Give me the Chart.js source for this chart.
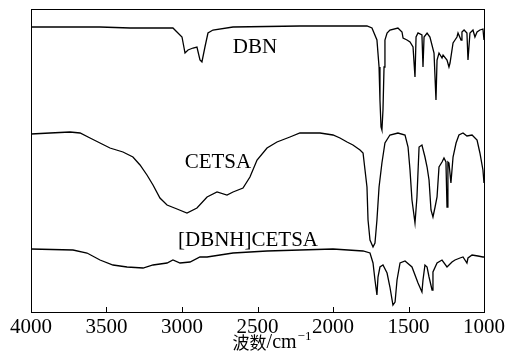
<!DOCTYPE html>
<html>
<head>
<meta charset="utf-8">
<script src="https://cdn.jsdelivr.net/npm/chart.js@4/dist/chart.umd.min.js"></script>
<style>
  body { margin: 0; background: #fff; }
</style>
</head>
<body>
<canvas id="ir" width="505" height="360"></canvas>
<script>
// Wavenumber axis (cm-1) ticks
var xTicks = [4000, 3500, 3000, 2500, 2000, 1500, 1000];

// DBN trace (offset transmittance, arbitrary units)
var dbnWn = [4000, 3543, 3344, 3060, 3000, 2980, 2960, 2927, 2901, 2881, 2868, 2848, 2828, 2795, 2662, 2219, 1775, 1742, 1709, 1695, 1689, 1682, 1676, 1669, 1662, 1656, 1642, 1623, 1570, 1543, 1536, 1510, 1490, 1470, 1457, 1450, 1437, 1411, 1404, 1397, 1377, 1358, 1331, 1318, 1311, 1298, 1278, 1271, 1245, 1232, 1225, 1205, 1192, 1179, 1172, 1152, 1146, 1132, 1113, 1106, 1093, 1073, 1060, 1046, 1027, 1007, 1000];
var dbnT = [285, 285, 284, 284, 275, 259, 262, 264, 265, 252, 250, 265, 279, 282, 285, 286, 286, 284, 272, 245, 212, 185, 182, 202, 245, 272, 279, 282, 284, 280, 274, 272, 270, 265, 235, 275, 279, 277, 245, 275, 279, 275, 259, 212, 252, 259, 254, 257, 252, 245, 249, 269, 272, 275, 279, 272, 280, 282, 279, 252, 279, 282, 275, 280, 282, 283, 272];

// CETSA trace
var cetsaWn = [4000, 3874, 3742, 3675, 3609, 3543, 3477, 3391, 3325, 3278, 3232, 3192, 3146, 3099, 3033, 2967, 2901, 2834, 2768, 2702, 2662, 2596, 2550, 2503, 2437, 2371, 2285, 2219, 2086, 2000, 1954, 1907, 1868, 1821, 1801, 1788, 1775, 1768, 1755, 1735, 1722, 1709, 1695, 1676, 1656, 1623, 1570, 1523, 1503, 1490, 1477, 1457, 1444, 1430, 1411, 1391, 1377, 1364, 1351, 1338, 1324, 1311, 1298, 1278, 1265, 1252, 1245, 1239, 1232, 1219, 1205, 1185, 1166, 1139, 1113, 1079, 1046, 1027, 1007, 1000];
var cetsaT = [178, 179, 180, 179, 174, 169, 164, 160, 155, 147, 137, 127, 114, 107, 103, 99, 104, 115, 120, 117, 120, 124, 135, 152, 164, 170, 175, 179, 179, 177, 174, 170, 167, 162, 159, 142, 125, 92, 72, 65, 69, 92, 125, 149, 169, 177, 179, 177, 165, 142, 112, 89, 115, 165, 167, 155, 145, 132, 102, 95, 105, 115, 145, 150, 154, 150, 105, 150, 149, 129, 155, 169, 177, 179, 176, 177, 172, 159, 142, 129];

// [DBNH]CETSA trace
var ilWn = [4000, 3722, 3629, 3543, 3457, 3364, 3258, 3192, 3099, 3060, 3013, 2947, 2881, 2834, 2748, 2662, 2437, 2219, 2000, 1801, 1755, 1735, 1722, 1709, 1702, 1689, 1669, 1642, 1623, 1603, 1589, 1576, 1556, 1523, 1477, 1437, 1411, 1404, 1391, 1377, 1364, 1344, 1338, 1311, 1278, 1245, 1212, 1192, 1159, 1139, 1113, 1106, 1079, 1040, 1007, 1000];
var ilT = [63, 62, 59, 52, 47, 45, 44, 47, 49, 52, 49, 50, 55, 55, 57, 59, 61, 62, 63, 61, 59, 49, 32, 17, 35, 45, 47, 39, 25, 7, 10, 32, 49, 51, 45, 29, 20, 32, 47, 45, 35, 22, 40, 49, 52, 45, 50, 52, 54, 55, 49, 54, 57, 56, 55, 55];

// Trace labels
var labelText = ["DBN", "CETSA", "[DBNH]CETSA"];
var labelWn = [2517, 2762, 2563];
var labelT = [265, 150, 72];

function pts(xs, ys) {
  var out = [];
  for (var i = 0; i < xs.length; i++) out.push({x: xs[i], y: ys[i]});
  return out;
}

var serif = '"Liberation Serif", "DejaVu Serif", serif';

var frame = {
  id: "frame",
  afterDraw: function(chart) {
    var ctx = chart.ctx, a = chart.chartArea, xs = chart.scales.x, ys = chart.scales.y;
    ctx.save();
    ctx.strokeStyle = "#000";
    ctx.lineWidth = 1;
    ctx.strokeRect(Math.round(a.left) + 0.5, Math.round(a.top) + 0.5, Math.round(a.right - a.left), Math.round(a.bottom - a.top));
    // inward tick marks
    for (var i = 1; i < xTicks.length - 1; i++) {
      var px = Math.round(xs.getPixelForValue(xTicks[i])) + 0.5;
      ctx.beginPath();
      ctx.moveTo(px, a.bottom);
      ctx.lineTo(px, a.bottom - 5);
      ctx.stroke();
    }
    // trace labels
    ctx.fillStyle = "#000";
    ctx.font = "21px " + serif;
    ctx.textAlign = "center";
    ctx.textBaseline = "middle";
    for (var j = 0; j < labelText.length; j++) {
      ctx.fillText(labelText[j], xs.getPixelForValue(labelWn[j]), ys.getPixelForValue(labelT[j]));
    }
    // axis title: 波数/cm-1
    var f1 = '17px "Noto Sans CJK SC", sans-serif', f2 = "20px " + serif, f3 = "13px " + serif;
    ctx.textAlign = "left";
    ctx.textBaseline = "alphabetic";
    ctx.font = f1; var w1 = ctx.measureText("波数").width;
    ctx.font = f2; var w2 = ctx.measureText("/cm").width;
    ctx.font = f3; var w3 = ctx.measureText("\u22121").width;
    var cx = (a.left + a.right) / 2 + 14;
    var x0 = cx - (w1 + w2 + w3) / 2, base = 349;
    ctx.font = f1; ctx.fillText("波数", x0, base);
    ctx.font = f2; ctx.fillText("/cm", x0 + w1, base - 1);
    ctx.font = f3; ctx.fillText("\u22121", x0 + w1 + w2 + 1, base - 9);
    ctx.restore();
  }
};

function ds(xs, ys) {
  return {
    data: pts(xs, ys),
    borderColor: "#000",
    borderWidth: 1.3,
    pointRadius: 0,
    tension: 0,
    fill: false
  };
}

new Chart(document.getElementById("ir"), {
  type: "line",
  data: {
    datasets: [ds(dbnWn, dbnT), ds(cetsaWn, cetsaT), ds(ilWn, ilT)]
  },
  options: {
    responsive: false,
    animation: false,
    devicePixelRatio: 1,
    layout: { padding: { left: 31, right: 21, top: 9, bottom: 0 } },
    plugins: { legend: { display: false }, tooltip: { enabled: false } },
    scales: {
      x: {
        type: "linear",
        reverse: true,
        min: 1000,
        max: 4000,
        grid: { display: false, drawTicks: false },
        border: { display: false },
        ticks: {
          stepSize: 500,
          autoSkip: false,
          maxRotation: 0,
          padding: 3,
          color: "#000",
          font: { family: serif, size: 21 },
          callback: function(v) { return String(v); }
        },
        afterFit: function(s) {
          s.height = 48;
          s.paddingLeft = 0;
          s.paddingRight = 0;
        }
      },
      y: {
        display: false,
        min: 0,
        max: 303
      }
    }
  },
  plugins: [frame]
});
</script>
</body>
</html>
